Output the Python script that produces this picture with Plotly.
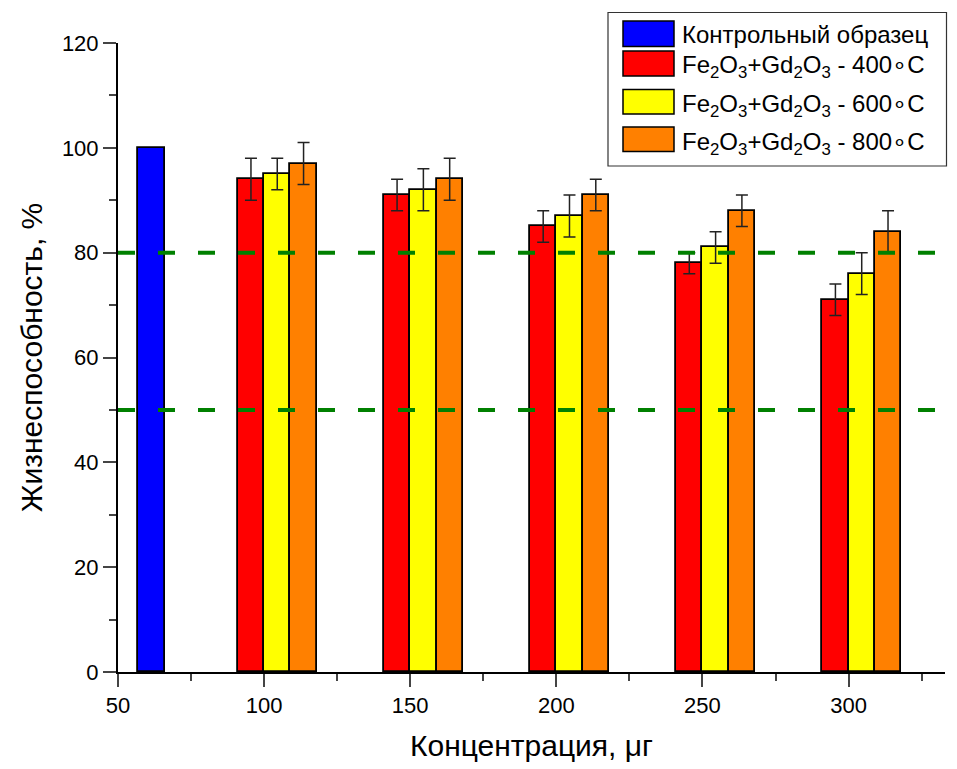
import plotly.graph_objects as go

# ---- data ----
concentrations = [100, 150, 200, 250, 300]
control_x = [61.5]
control_val = [100]
v400 = [94, 91, 85, 78, 71]
e400 = [4, 3, 3, 2, 3]
v600 = [95, 92, 87, 81, 76]
e600 = [3, 4, 4, 3, 4]
v800 = [97, 94, 91, 88, 84]
e800 = [4, 4, 3, 3, 4]
threshold_levels = [80, 50]
legend_labels = [
    "Контрольный образец",
    "Fe<sub>2</sub>O<sub>3</sub>+Gd<sub>2</sub>O<sub>3</sub> - 400∘C",
    "Fe<sub>2</sub>O<sub>3</sub>+Gd<sub>2</sub>O<sub>3</sub> - 600∘C",
    "Fe<sub>2</sub>O<sub>3</sub>+Gd<sub>2</sub>O<sub>3</sub> - 800∘C",
]
colors = ["#0000ff", "#ff0000", "#ffff00", "#ff8000"]

FONT = "Liberation Sans"
BW = 9
outline = dict(color="black", width=1.8)
errstyle = dict(type="data", visible=True, color="#222222", thickness=1.5, width=6)

fig = go.Figure()
fig.add_trace(go.Bar(x=control_x, y=control_val, width=BW, marker=dict(color=colors[0], line=outline),
                     showlegend=False))
for vals, errs, col, off in [(v400, e400, colors[1], -BW), (v600, e600, colors[2], 0), (v800, e800, colors[3], BW)]:
    fig.add_trace(go.Bar(x=concentrations, y=vals, width=BW, offset=off,
                         marker=dict(color=col, line=outline),
                         error_y=dict(array=errs, **errstyle), showlegend=False))

for lv in threshold_levels:
    fig.add_shape(type="line", xref="x", yref="y", x0=50, x1=330, y0=lv, y1=lv,
                  line=dict(color="#008000", width=4, dash="17px,23px"), layer="above")

# ---- manual legend (screen pixel targets, page body has 8px margin) ----
OFF = 8
W, H = 957 - OFF, 769 - OFF
L, R, T, B = 118, 945, 43, 672
def px(x):
    return (x - L) / (R - L)
def py(y):
    return (B - y) / (B - T)

fig.add_shape(type="rect", xref="paper", yref="paper", x0=px(608), x1=px(946.5), y0=py(12.5), y1=py(166),
              line=dict(color="#333333", width=1.2), fillcolor="white", layer="above")
rows = [(21, 46.5), (51, 76), (89.5, 114), (127, 151.5)]
text_y = [34, 67, 105, 143]
for (y0, y1), col, lab, ty in zip(rows, colors, legend_labels, text_y):
    fig.add_shape(type="rect", xref="paper", yref="paper", x0=px(623), x1=px(674), y0=py(y0), y1=py(y1),
                  line=dict(color="black", width=1.5), fillcolor=col, layer="above")
    fig.add_annotation(xref="paper", yref="paper", x=px(680), y=py(ty), xanchor="left", yanchor="middle",
                       text=lab, showarrow=False, font=dict(family=FONT, size=24, color="black"))

fig.update_layout(
    width=W, height=H,
    margin=dict(l=L - OFF, r=957 - R, t=T - OFF, b=769 - B),
    plot_bgcolor="white", paper_bgcolor="white",
    barmode="overlay", bargap=0,
    font=dict(family=FONT, color="black"),
    showlegend=False,
)
fig.update_xaxes(
    range=[50, 333], tickvals=concentrations + [50], ticks="outside", ticklen=13, tickwidth=2,
    tickfont=dict(size=22), showline=True, linewidth=2, linecolor="black", showgrid=False, zeroline=False,
    minor=dict(ticks="outside", ticklen=7, tickwidth=2, dtick=25, tick0=50),
    title=dict(text="Концентрация, μг", font=dict(size=30), standoff=18),
)
fig.update_yaxes(
    range=[0, 120], dtick=20, ticks="outside", ticklen=13, tickwidth=2,
    tickfont=dict(size=22), showline=True, linewidth=2, linecolor="black", showgrid=False, zeroline=False,
    minor=dict(ticks="outside", ticklen=7, tickwidth=2, dtick=10),
    title=dict(text="Жизнеспособность, %", font=dict(size=30), standoff=10),
)

fig.write_html("out.html")
